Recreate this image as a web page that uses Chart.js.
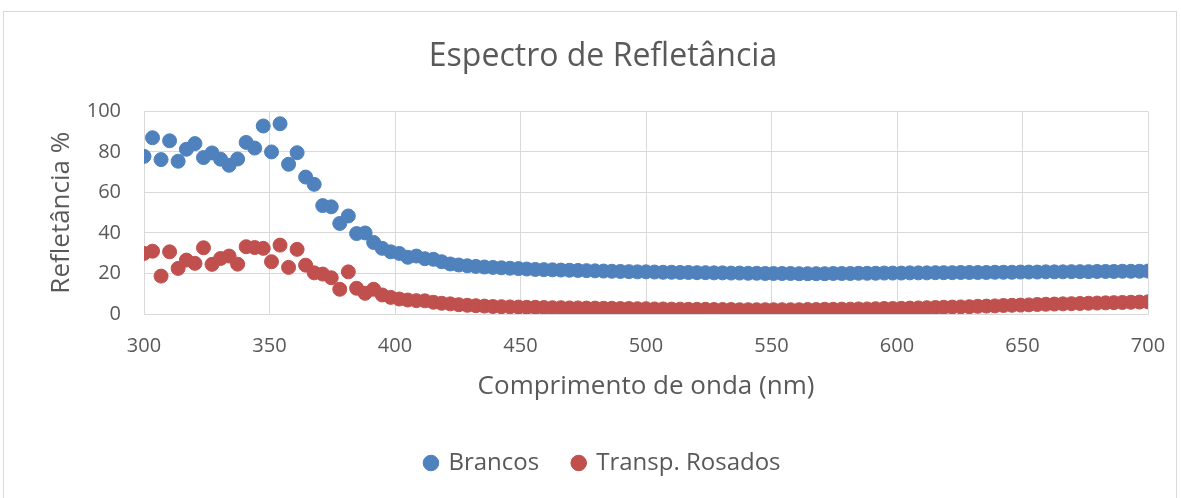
<!DOCTYPE html>
<html>
<head>
<meta charset="utf-8">
<script src="https://cdn.jsdelivr.net/npm/chart.js@4/dist/chart.umd.min.js"></script>
<style>
  html, body { margin: 0; padding: 0; background: #fff; }
  #wrap { position: relative; width: 1181px; height: 498px; overflow: hidden; }
  #frame { position: absolute; left: 3px; top: 11px; width: 1174px; height: 500px; border: 1px solid #d9d9d9; box-sizing: border-box; }
  canvas { position: absolute; left: 0; top: 0; }
</style>
</head>
<body>
<div id="wrap">
  <div id="frame"></div>
  <canvas id="specChart" width="1181" height="498"></canvas>
</div>
<script>
// wavelengths (nm)
const wavelengths = [
  300.0, 303.4, 306.8, 310.2, 313.6, 316.9, 320.3, 323.7, 327.1, 330.5,
  333.9, 337.3, 340.7, 344.1, 347.5, 350.8, 354.2, 357.6, 361.0, 364.4,
  367.8, 371.2, 374.6, 378.0, 381.4, 384.7, 388.1, 391.5, 394.9, 398.3,
  401.7, 405.1, 408.5, 411.9, 415.3, 418.6, 422.0, 425.4, 428.8, 432.2,
  435.6, 439.0, 442.4, 445.8, 449.2, 452.5, 455.9, 459.3, 462.7, 466.1,
  469.5, 472.9, 476.3, 479.7, 483.1, 486.4, 489.8, 493.2, 496.6, 500.0,
  503.4, 506.8, 510.2, 513.6, 516.9, 520.3, 523.7, 527.1, 530.5, 533.9,
  537.3, 540.7, 544.1, 547.5, 550.8, 554.2, 557.6, 561.0, 564.4, 567.8,
  571.2, 574.6, 578.0, 581.4, 584.7, 588.1, 591.5, 594.9, 598.3, 601.7,
  605.1, 608.5, 611.9, 615.3, 618.6, 622.0, 625.4, 628.8, 632.2, 635.6,
  639.0, 642.4, 645.8, 649.2, 652.5, 655.9, 659.3, 662.7, 666.1, 669.5,
  672.9, 676.3, 679.7, 683.1, 686.4, 689.8, 693.2, 696.6, 700.0
];

// Refletância % - Brancos
const brancos = [
  77.8, 87.0, 76.2, 85.5, 75.4, 81.3, 84.1, 77.2, 79.5, 76.4,
  73.4, 76.5, 84.7, 81.9, 92.8, 80.0, 93.9, 73.9, 79.6, 67.6,
  64.0, 53.5, 52.9, 44.7, 48.4, 39.7, 40.0, 35.3, 32.4, 30.7,
  29.9, 28.0, 28.6, 27.3, 27.0, 25.8, 24.7, 24.2, 23.8, 23.5,
  23.2, 23.0, 22.8, 22.6, 22.4, 22.2, 22.0, 21.9, 21.8, 21.7,
  21.6, 21.5, 21.4, 21.3, 21.2, 21.1, 21.0, 20.9, 20.8, 20.8,
  20.7, 20.6, 20.6, 20.5, 20.5, 20.4, 20.4, 20.3, 20.3, 20.2,
  20.2, 20.1, 20.1, 20.0, 20.0, 20.0, 20.0, 19.9, 19.9, 19.9,
  19.9, 20.0, 20.0, 20.0, 20.1, 20.1, 20.1, 20.2, 20.2, 20.2,
  20.3, 20.3, 20.3, 20.4, 20.4, 20.4, 20.5, 20.5, 20.5, 20.5,
  20.6, 20.6, 20.6, 20.7, 20.7, 20.7, 20.8, 20.8, 20.8, 20.9,
  20.9, 20.9, 21.0, 21.0, 21.0, 21.1, 21.1, 21.1, 21.2
];

// Refletância % - Transp. Rosados
const rosados = [
  29.9, 31.0, 18.7, 30.7, 22.5, 26.6, 25.0, 32.7, 24.5, 27.4,
  28.6, 24.6, 33.2, 32.8, 32.4, 25.8, 34.0, 23.0, 31.9, 24.1,
  20.3, 19.7, 17.9, 12.2, 20.8, 12.7, 10.2, 12.2, 9.4, 8.2,
  7.4, 6.9, 6.6, 6.5, 5.8, 5.3, 5.0, 4.6, 4.3, 4.1,
  3.9, 3.7, 3.6, 3.5, 3.4, 3.3, 3.3, 3.2, 3.1, 3.1,
  3.0, 3.0, 2.9, 2.9, 2.8, 2.8, 2.7, 2.7, 2.6, 2.6,
  2.5, 2.5, 2.4, 2.4, 2.3, 2.3, 2.3, 2.2, 2.2, 2.2,
  2.1, 2.1, 2.1, 2.1, 2.1, 2.1, 2.1, 2.1, 2.2, 2.2,
  2.3, 2.3, 2.4, 2.4, 2.5, 2.5, 2.6, 2.7, 2.7, 2.8,
  2.9, 3.0, 3.1, 3.2, 3.3, 3.4, 3.5, 3.6, 3.8, 3.9,
  4.0, 4.2, 4.3, 4.4, 4.5, 4.7, 4.8, 4.9, 5.0, 5.1,
  5.2, 5.3, 5.4, 5.5, 5.6, 5.7, 5.8, 5.9, 6.0
];

const seriesNames = ['Brancos', 'Transp. Rosados'];
const xTicks = [300, 350, 400, 450, 500, 550, 600, 650, 700];
const yTicks = [0, 20, 40, 60, 80, 100];

const textColor = '#595959';
const gridColor = '#d9d9d9';
const fontFamily = "'Open Sans', sans-serif";

function toPoints(ys) {
    return wavelengths.map((x, i) => ({ x: x, y: ys[i] }));
}

const ctx = document.getElementById('specChart').getContext('2d');

new Chart(ctx, {
    type: 'scatter',
    data: {
        datasets: [{
            label: seriesNames[0],
            data: toPoints(brancos),
            backgroundColor: '#4f81bd',
            borderColor: '#4f81bd',
            pointRadius: 7,
            pointBorderWidth: 1
        }, {
            label: seriesNames[1],
            data: toPoints(rosados),
            backgroundColor: '#c0504d',
            borderColor: '#c0504d',
            pointRadius: 7,
            pointBorderWidth: 1
        }]
    },
    options: {
        responsive: false,
        animation: false,
        layout: { padding: { left: 25, right: 0, top: 0, bottom: 13 } },
        plugins: {
            tooltip: { enabled: false },
            title: {
                display: true,
                text: 'Espectro de Refletância',
                color: textColor,
                font: { family: fontFamily, size: 32, weight: 'normal' },
                padding: { top: 38, bottom: 35 }
            },
            legend: {
                position: 'bottom',
                labels: {
                    usePointStyle: true,
                    pointStyle: 'circle',
                    boxWidth: 11,
                    boxHeight: 11,
                    padding: 34,
                    color: textColor,
                    font: { family: fontFamily, size: 24 }
                }
            }
        },
        scales: {
            x: {
                type: 'linear',
                min: 300,
                max: 700,
                afterBuildTicks: s => { s.ticks = xTicks.map(v => ({ value: v })); },
                afterFit: s => { s.height = 103; },
                grid: { color: gridColor, drawTicks: false },
                border: { color: gridColor },
                // tall line height pushes the labels down without widening the side padding
                ticks: { color: textColor, padding: 0, font: { family: fontFamily, size: 20, lineHeight: 3.2 } },
                title: {
                    display: true,
                    text: 'Comprimento de onda (nm)',
                    color: textColor,
                    font: { family: fontFamily, size: 26 },
                    padding: { top: 0, bottom: 15 }
                }
            },
            y: {
                min: 0,
                max: 100,
                afterBuildTicks: s => { s.ticks = yTicks.map(v => ({ value: v })); },
                afterFit: s => { s.width = 119; },
                grid: { color: gridColor, drawTicks: false },
                border: { color: gridColor },
                ticks: { color: textColor, padding: 23, font: { family: fontFamily, size: 20 } },
                title: {
                    display: true,
                    text: 'Refletância %',
                    color: textColor,
                    font: { family: fontFamily, size: 26 },
                    padding: { top: 21, bottom: 0 }
                }
            },
            // empty right-hand axis, only reserves the right margin
            yRight: {
                position: 'right',
                display: true,
                afterFit: s => { s.width = 33; },
                grid: { display: false },
                border: { display: false },
                ticks: { display: false }
            }
        }
    }
});
</script>
</body>
</html>
